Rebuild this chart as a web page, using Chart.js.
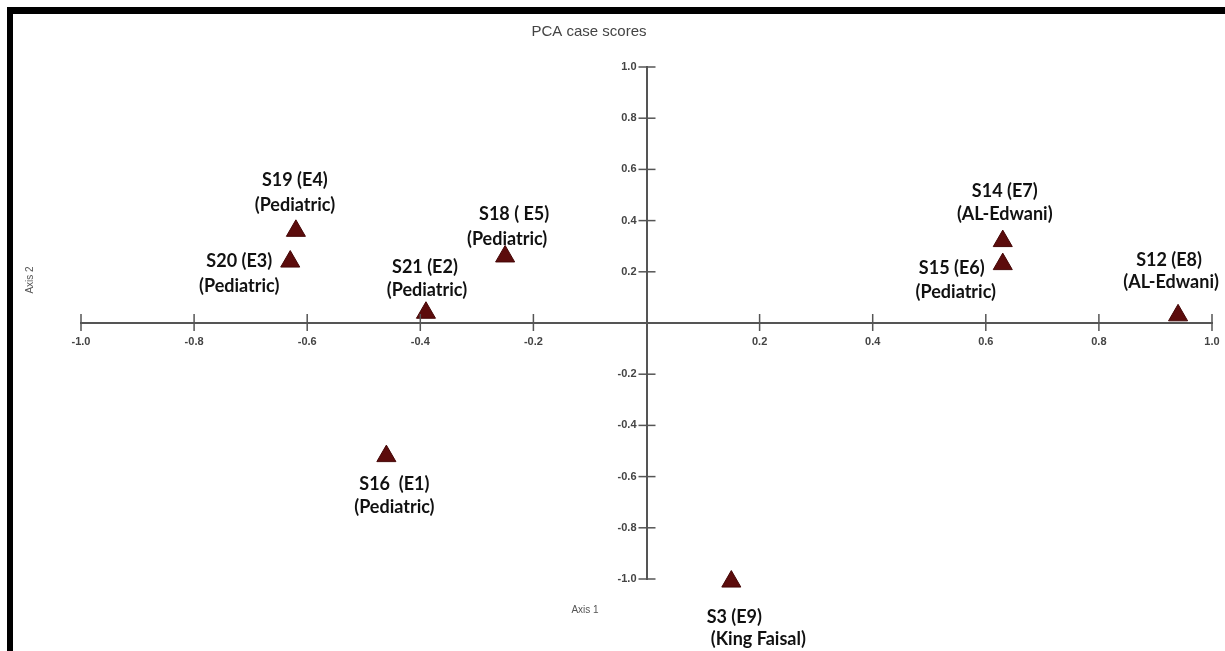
<!DOCTYPE html>
<html>
<head>
<meta charset="utf-8">
<script src="https://cdn.jsdelivr.net/npm/chart.js@4.4.1/dist/chart.umd.min.js"></script>
<style>
  html, body { margin: 0; padding: 0; background: #fff; }
  #wrap { width: 1225px; height: 651px; position: relative; }
</style>
</head>
<body>
<div id="wrap"><canvas id="pcaChart" width="1225" height="651"></canvas></div>
<script>
// données
const echantillons = ["S19 (E4)", "S20 (E3)", "S21 (E2)", "S18 ( E5)", "S14 (E7)", "S15 (E6)", "S12 (E8)", "S16  (E1)", "S3 (E9)"];
const groupes = ["(Pediatric)", "(Pediatric)", "(Pediatric)", "(Pediatric)", "(AL-Edwani)", "(Pediatric)", "(AL-Edwani)", "(Pediatric)", "(King Faisal)"];
const axe1 = [-0.62, -0.63, -0.39, -0.25, 0.63, 0.63, 0.94, -0.46, 0.15];
const axe2 = [0.36, 0.24, 0.04, 0.26, 0.32, 0.23, 0.03, -0.52, -1.01];
const graduations = [-1.0, -0.8, -0.6, -0.4, -0.2, 0.2, 0.4, 0.6, 0.8, 1.0];

// décalage des étiquettes (px) : [dx1, dy1, dx2, dy2]
const decalages = [
  [-1, -51, -1, -26],
  [-51, 0, -51, 25],
  [-1, -46, 1, -23],
  [9, -42, 2, -17],
  [2, -50, 2, -27],
  [-51, 4, -47, 28],
  [-9, -55, -7, -33],
  [8, 28, 8, 51],
  [3, 36, 27, 58]
];

const points = axe1.map((x, i) => ({ x: x, y: axe2[i] }));

// cadre, titre, graduations, noms d'axes et étiquettes
const decorPlugin = {
  id: "decor",
  beforeDraw(chart) {
    const ctx = chart.ctx;
    ctx.save();
    ctx.fillStyle = "#fff";
    ctx.fillRect(0, 0, chart.width, chart.height);
    ctx.restore();
  },
  afterDraw(chart) {
    const ctx = chart.ctx;
    const sx = chart.scales.x, sy = chart.scales.y;
    const x0 = sx.getPixelForValue(0), y0 = sy.getPixelForValue(0);
    ctx.save();

    // petites graduations qui croisent les axes + leurs libellés
    ctx.strokeStyle = "#555";
    ctx.lineWidth = 1.5;
    ctx.fillStyle = "#444";
    ctx.font = "bold 11px 'Liberation Sans'";
    graduations.forEach(v => {
      const txt = v.toFixed(1);
      const px = sx.getPixelForValue(v);
      ctx.beginPath(); ctx.moveTo(px, y0 - 9); ctx.lineTo(px, y0 + 8); ctx.stroke();
      ctx.textAlign = "center";
      ctx.textBaseline = "middle";
      ctx.fillText(txt, px, y0 + 19);
      const py = sy.getPixelForValue(v);
      ctx.beginPath(); ctx.moveTo(x0 - 8, py); ctx.lineTo(x0 + 9, py); ctx.stroke();
      ctx.textAlign = "right";
      ctx.fillText(txt, x0 - 10, py);
    });

    // étiquettes des points
    const meta = chart.getDatasetMeta(0);
    ctx.fillStyle = "#111";
    ctx.font = "bold 18px Lato";
    ctx.textAlign = "center";
    ctx.textBaseline = "middle";
    meta.data.forEach((el, i) => {
      const d = decalages[i];
      ctx.fillText(echantillons[i], el.x + d[0], el.y + d[1]);
      ctx.fillText(groupes[i], el.x + d[2], el.y + d[3]);
    });

    // titre et noms d'axes
    ctx.fillStyle = "#444";
    ctx.font = "15px 'Liberation Sans'";
    ctx.fillText("PCA case scores", 589, 32);
    ctx.font = "10px 'Liberation Sans'";
    ctx.fillStyle = "#555";
    ctx.fillText("Axis 1", 585, 610);
    ctx.translate(30, 280);
    ctx.rotate(-Math.PI / 2);
    ctx.fillText("Axis 2", 0, 0);
    ctx.setTransform(1, 0, 0, 1, 0, 0);

    // cadre noir
    ctx.fillStyle = "#000";
    ctx.fillRect(7, 7, chart.width - 7, 7);
    ctx.fillRect(7, 7, 6, chart.height - 7);
    ctx.restore();
  }
};

const ctx = document.getElementById("pcaChart").getContext("2d");
new Chart(ctx, {
  type: "scatter",
  data: {
    datasets: [{
      label: "PCA",
      data: points,
      pointStyle: "triangle",
      pointRadius: 11,
      pointHoverRadius: 11,
      backgroundColor: "#5c0c0c",
      borderColor: "#450707",
      borderWidth: 1
    }]
  },
  options: {
    responsive: false,
    animation: false,
    clip: false,
    layout: { padding: { left: 81, right: 13, top: 67, bottom: 72 } },
    plugins: {
      legend: { display: false },
      tooltip: { enabled: false },
      title: { display: false }
    },
    scales: {
      x: {
        type: "linear",
        position: { y: 0 },
        min: -1, max: 1,
        grid: { display: false, drawTicks: false },
        border: { display: true, color: "#555", width: 2 },
        ticks: { stepSize: 0.2, display: false }
      },
      y: {
        type: "linear",
        position: { x: 0 },
        min: -1, max: 1,
        grid: { display: false, drawTicks: false },
        border: { display: true, color: "#555", width: 2 },
        ticks: { stepSize: 0.2, display: false }
      }
    }
  },
  plugins: [decorPlugin]
});
</script>
</body>
</html>
